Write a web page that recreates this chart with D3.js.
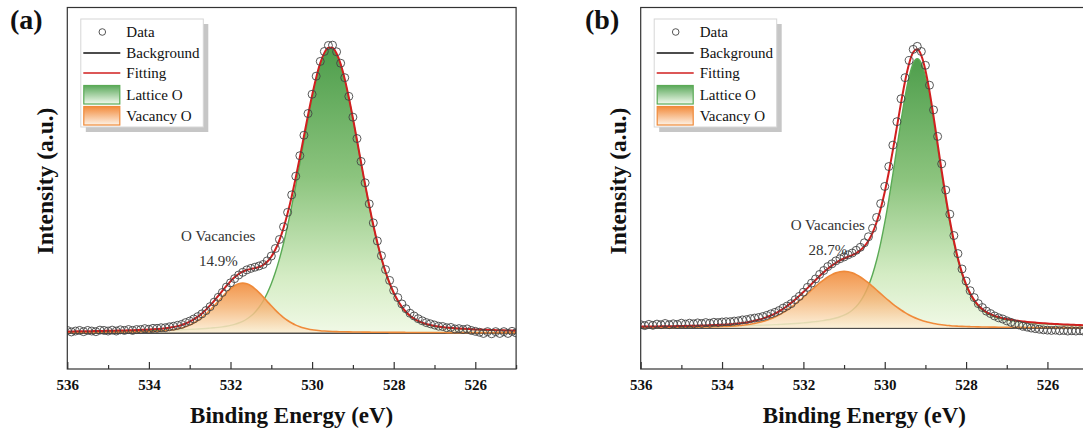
<!DOCTYPE html>
<html>
<head>
<meta charset="utf-8">
<script src="https://cdn.jsdelivr.net/npm/d3@7/dist/d3.min.js"></script>
<style>
  body { margin: 0; background: #fff; }
  svg { display: block; }
</style>
</head>
<body>
<div id="chart"></div>
<script>
// binding energy grid (eV), shared by both spectra
var energy = [
  536.0, 535.9, 535.8, 535.7, 535.6, 535.5, 535.4, 535.3, 535.2, 535.1,
  535.0, 534.9, 534.8, 534.7, 534.6, 534.5, 534.4, 534.3, 534.2, 534.1,
  534.0, 533.9, 533.8, 533.7, 533.6, 533.5, 533.4, 533.3, 533.2, 533.1,
  533.0, 532.9, 532.8, 532.7, 532.6, 532.5, 532.4, 532.3, 532.2, 532.1,
  532.0, 531.9, 531.8, 531.7, 531.6, 531.5, 531.4, 531.3, 531.2, 531.1,
  531.0, 530.9, 530.8, 530.7, 530.6, 530.5, 530.4, 530.3, 530.2, 530.1,
  530.0, 529.9, 529.8, 529.7, 529.6, 529.5, 529.4, 529.3, 529.2, 529.1,
  529.0, 528.9, 528.8, 528.7, 528.6, 528.5, 528.4, 528.3, 528.2, 528.1,
  528.0, 527.9, 527.8, 527.7, 527.6, 527.5, 527.4, 527.3, 527.2, 527.1,
  527.0, 526.9, 526.8, 526.7, 526.6, 526.5, 526.4, 526.3, 526.2, 526.1,
  526.0, 525.9, 525.8, 525.7, 525.6, 525.5, 525.4, 525.3, 525.2, 525.1,
  525.0
];
var tickMajor = [536, 534, 532, 530, 528, 526];
var tickMinor = [535, 533, 531, 529, 527, 525];
var legendNames = ["Data", "Background", "Fitting", "Lattice O", "Vacancy O"];

// ---- panel (a) ----
var backgroundA = 12;
var dataA = [
  12.8, 12.3, 12.6, 12.8, 12.4, 12.8, 12.6, 12.4, 12.9, 12.8,
  12.6, 12.9, 12.6, 13.0, 12.8, 13.1, 12.8, 13.1, 13.1, 13.4,
  13.2, 13.5, 13.5, 13.7, 13.7, 14.0, 14.2, 14.5, 14.8, 15.4,
  15.9, 16.6, 17.4, 18.3, 19.4, 20.7, 22.2, 23.8, 25.4, 27.2,
  28.6, 30.0, 31.2, 32.1, 32.9, 33.4, 33.8, 34.2, 34.7, 35.9,
  37.5, 40.0, 43.0, 47.2, 52.0, 57.8, 64.0, 70.8, 77.6, 84.8,
  91.2, 97.2, 102.1, 105.4, 107.4, 107.5, 105.3, 101.5, 96.7, 90.5,
  83.6, 76.5, 68.9, 61.8, 54.8, 48.5, 42.5, 37.6, 33.0, 29.4,
  26.1, 23.7, 21.6, 20.0, 18.5, 17.6, 16.7, 16.0, 15.4, 15.0,
  14.6, 14.2, 14.1, 13.7, 13.8, 13.3, 13.4, 13.1, 13.3, 12.8,
  12.5, 12.2, 11.8, 12.4, 11.7, 12.4, 11.8, 12.4, 11.8, 12.5,
  12.0
];
// fitted components, height above background
var latticeA = [
  0.34, 0.35, 0.36, 0.38, 0.39, 0.40, 0.41, 0.43, 0.44, 0.46,
  0.47, 0.49, 0.51, 0.53, 0.55, 0.57, 0.59, 0.62, 0.65, 0.67,
  0.70, 0.73, 0.77, 0.80, 0.84, 0.88, 0.93, 0.97, 1.03, 1.08,
  1.14, 1.21, 1.28, 1.36, 1.45, 1.56, 1.67, 1.82, 1.99, 2.20,
  2.47, 2.81, 3.26, 3.83, 4.59, 5.58, 6.86, 8.50, 10.57, 13.14,
  16.30, 20.10, 24.56, 29.73, 35.58, 42.03, 48.98, 56.27, 63.69, 70.97,
  77.80, 83.87, 88.82, 92.33, 94.16, 94.16, 92.33, 88.82, 83.87, 77.80,
  70.97, 63.69, 56.27, 48.98, 42.03, 35.58, 29.73, 24.56, 20.10, 16.30,
  13.14, 10.57, 8.50, 6.86, 5.58, 4.59, 3.83, 3.26, 2.81, 2.47,
  2.20, 1.99, 1.82, 1.67, 1.56, 1.45, 1.36, 1.28, 1.21, 1.14,
  1.08, 1.03, 0.97, 0.93, 0.88, 0.84, 0.80, 0.77, 0.73, 0.70,
  0.67
];
var vacancyA = [
  0.12, 0.13, 0.13, 0.14, 0.15, 0.15, 0.16, 0.17, 0.18, 0.19,
  0.20, 0.21, 0.23, 0.24, 0.26, 0.28, 0.30, 0.32, 0.35, 0.38,
  0.41, 0.46, 0.52, 0.60, 0.70, 0.84, 1.02, 1.27, 1.60, 2.03,
  2.57, 3.26, 4.09, 5.09, 6.25, 7.55, 8.97, 10.46, 11.95, 13.37,
  14.63, 15.63, 16.28, 16.50, 16.28, 15.63, 14.63, 13.37, 11.95, 10.46,
  8.97, 7.55, 6.25, 5.09, 4.09, 3.26, 2.57, 2.03, 1.60, 1.27,
  1.02, 0.84, 0.70, 0.60, 0.52, 0.46, 0.41, 0.38, 0.35, 0.32,
  0.30, 0.28, 0.26, 0.24, 0.23, 0.21, 0.20, 0.19, 0.18, 0.17,
  0.16, 0.15, 0.15, 0.14, 0.13, 0.13, 0.12, 0.12, 0.11, 0.11,
  0.10, 0.10, 0.10, 0.09, 0.09, 0.08, 0.08, 0.08, 0.08, 0.07,
  0.07, 0.07, 0.07, 0.07, 0.06, 0.06, 0.06, 0.06, 0.06, 0.06,
  0.06
];

// ---- panel (b) ----
var backgroundB = 13.6;
var dataB = [
  14.7, 14.4, 14.8, 14.5, 14.9, 14.7, 15.1, 14.7, 15.0, 14.8,
  15.2, 14.9, 15.2, 15.0, 15.3, 15.1, 15.4, 15.2, 15.5, 15.4,
  15.6, 15.7, 15.7, 15.9, 16.0, 16.3, 16.4, 16.7, 16.9, 17.1,
  17.4, 17.8, 18.3, 18.8, 19.4, 20.2, 20.9, 21.7, 23.0, 24.1,
  25.5, 27.1, 28.5, 29.9, 31.4, 32.7, 34.0, 34.9, 35.9, 36.6,
  37.2, 37.9, 38.5, 39.4, 40.4, 41.9, 43.9, 46.7, 50.3, 54.9,
  60.6, 67.2, 74.3, 82.1, 89.7, 96.7, 102.4, 106.1, 107.1, 105.4,
  100.8, 94.2, 86.0, 77.2, 68.1, 59.4, 51.4, 44.3, 38.3, 33.2,
  29.2, 26.0, 23.7, 21.7, 20.4, 19.2, 18.4, 17.6, 17.0, 16.6,
  16.0, 15.5, 15.0, 14.6, 14.2, 13.9, 13.6, 13.4, 13.2, 13.0,
  12.9, 12.8, 12.9, 12.7, 12.8, 12.6, 12.7, 12.6, 12.7, 12.5,
  12.5
];
var latticeB = [
  0.31, 0.32, 0.33, 0.33, 0.34, 0.36, 0.37, 0.38, 0.39, 0.40,
  0.42, 0.43, 0.45, 0.47, 0.48, 0.50, 0.52, 0.54, 0.56, 0.58,
  0.61, 0.63, 0.66, 0.69, 0.72, 0.75, 0.79, 0.83, 0.87, 0.91,
  0.96, 1.01, 1.06, 1.12, 1.19, 1.26, 1.33, 1.42, 1.51, 1.61,
  1.72, 1.84, 1.98, 2.13, 2.29, 2.50, 2.73, 3.00, 3.33, 3.75,
  4.28, 4.98, 5.92, 7.16, 8.85, 11.09, 14.02, 17.78, 22.49, 28.21,
  34.96, 42.65, 51.08, 59.93, 68.71, 76.80, 83.45, 87.85, 89.40, 87.85,
  83.45, 76.80, 68.71, 59.93, 51.08, 42.65, 34.96, 28.21, 22.49, 17.78,
  14.02, 11.09, 8.85, 7.16, 5.92, 4.98, 4.28, 3.75, 3.33, 3.00,
  2.73, 2.50, 2.29, 2.13, 1.98, 1.84, 1.72, 1.61, 1.51, 1.42,
  1.33, 1.26, 1.19, 1.12, 1.06, 1.01, 0.96, 0.91, 0.87, 0.83,
  0.79
];
var vacancyB = [
  0.16, 0.17, 0.18, 0.19, 0.19, 0.20, 0.21, 0.22, 0.23, 0.24,
  0.25, 0.26, 0.28, 0.29, 0.31, 0.33, 0.35, 0.38, 0.41, 0.45,
  0.49, 0.54, 0.61, 0.69, 0.80, 0.92, 1.08, 1.28, 1.52, 1.82,
  2.17, 2.60, 3.10, 3.68, 4.35, 5.12, 5.98, 6.92, 7.96, 9.06,
  10.22, 11.41, 12.62, 13.81, 14.96, 16.01, 16.95, 17.73, 18.31, 18.68,
  18.80, 18.68, 18.31, 17.73, 16.95, 16.01, 14.96, 13.81, 12.62, 11.41,
  10.22, 9.06, 7.96, 6.92, 5.98, 5.12, 4.35, 3.68, 3.10, 2.60,
  2.17, 1.82, 1.52, 1.28, 1.08, 0.92, 0.80, 0.69, 0.61, 0.54,
  0.49, 0.45, 0.41, 0.38, 0.35, 0.33, 0.31, 0.29, 0.28, 0.26,
  0.25, 0.24, 0.23, 0.22, 0.21, 0.20, 0.19, 0.19, 0.18, 0.17,
  0.16, 0.16, 0.15, 0.15, 0.14, 0.14, 0.13, 0.13, 0.12, 0.12,
  0.12
];

var svgWidth = 1083;
var svgHeight = 432;
var plotTop = 7.5;
var plotBottom = 369;
var font = "'Liberation Serif', 'Times New Roman', serif";

var svg = d3.select("#chart")
  .append("svg")
  .attr("width", svgWidth)
  .attr("height", svgHeight)
  .style("background", "#fff");

var defs = svg.append("defs");

function addGradient(id, stops) {
  var g = defs.append("linearGradient")
    .attr("id", id)
    .attr("x1", 0).attr("y1", 0)
    .attr("x2", 0).attr("y2", 1);
  stops.forEach(function(s) {
    g.append("stop").attr("offset", s[0]).attr("stop-color", s[1]);
  });
}
addGradient("greenFill", [["0%", "#4e9e4c"], ["45%", "#8cc47e"], ["80%", "#d4ecc4"], ["100%", "#f1f9e6"]]);
addGradient("orangeFill", [["0%", "#f0842e"], ["50%", "#f5b577"], ["100%", "#fcefd6"]]);
addGradient("greenKey", [["0%", "#5aa85a"], ["100%", "#f2faee"]]);
addGradient("orangeKey", [["0%", "#f28a3a"], ["100%", "#fdf2e6"]]);

var panels = [
  { id: "a", left: 67.3, right: 516.1, data: dataA, lattice: latticeA, vacancy: vacancyA,
    bg: backgroundA, share: "14.9%", note: [532.3, 42.6], tag: "(a)", tagX: 10, titleX: 45 },
  { id: "b", left: 640.7, right: 1088.1, data: dataB, lattice: latticeB, vacancy: vacancyB,
    bg: backgroundB, share: "28.7%", note: [531.4, 46.3], tag: "(b)", tagX: 585, titleX: 618 }
];

panels.forEach(drawPanel);

function drawPanel(p) {
  var x = d3.scaleLinear().domain([536, 525]).range([p.left, p.right]);
  var y = d3.scaleLinear().domain([0, 120]).range([plotBottom, plotTop]);

  var rows = energy.map(function(e, i) {
    return {
      e: e,
      data: p.data[i],
      lat: p.bg + p.lattice[i],
      vac: p.bg + p.vacancy[i],
      fit: p.bg + p.lattice[i] + p.vacancy[i]
    };
  });

  defs.append("clipPath").attr("id", "clip-" + p.id)
    .append("rect")
    .attr("x", p.left).attr("y", plotTop)
    .attr("width", p.right - p.left).attr("height", plotBottom - plotTop);

  var g = svg.append("g").attr("clip-path", "url(#clip-" + p.id + ")");

  var latArea = d3.area().curve(d3.curveMonotoneX)
    .x(d => x(d.e)).y0(y(p.bg)).y1(d => y(d.lat));
  var vacArea = d3.area().curve(d3.curveMonotoneX)
    .x(d => x(d.e)).y0(y(p.bg)).y1(d => y(d.vac));
  var line = function(key) {
    return d3.line().curve(d3.curveMonotoneX).x(d => x(d.e)).y(d => y(d[key]));
  };

  // lattice O component
  g.append("path").datum(rows).attr("d", latArea).attr("fill", "url(#greenFill)");
  g.append("path").datum(rows).attr("d", line("lat"))
    .attr("fill", "none").attr("stroke", "#5aaa55").attr("stroke-width", 1.4);

  // background
  g.append("line")
    .attr("x1", p.left).attr("x2", p.right)
    .attr("y1", y(p.bg)).attr("y2", y(p.bg))
    .attr("stroke", "#111").attr("stroke-width", 1.6);

  // vacancy O component
  g.append("path").datum(rows).attr("d", vacArea)
    .attr("fill", "url(#orangeFill)").attr("fill-opacity", 0.85);
  g.append("path").datum(rows).attr("d", line("vac"))
    .attr("fill", "none").attr("stroke", "#ef8a3a").attr("stroke-width", 1.6);

  // envelope
  g.append("path").datum(rows).attr("d", line("fit"))
    .attr("fill", "none").attr("stroke", "#d11f1f").attr("stroke-width", 2);

  // measured points
  g.selectAll("circle.pt").data(rows).enter()
    .append("circle")
    .attr("class", "pt")
    .attr("cx", d => x(d.e))
    .attr("cy", d => y(d.data))
    .attr("r", 4)
    .attr("fill", "none")
    .attr("stroke", "#444")
    .attr("stroke-width", 0.9);

  // frame
  svg.append("rect")
    .attr("x", p.left).attr("y", plotTop)
    .attr("width", p.right - p.left).attr("height", plotBottom - plotTop)
    .attr("fill", "none").attr("stroke", "#333").attr("stroke-width", 1.2);

  // bottom axis, ticks pointing inward
  var axMajor = svg.append("g")
    .attr("transform", `translate(0, ${plotBottom})`)
    .call(d3.axisBottom(x).tickValues(tickMajor).tickSize(-7).tickPadding(10).tickFormat(d3.format("d")));
  var axMinor = svg.append("g")
    .attr("transform", `translate(0, ${plotBottom})`)
    .call(d3.axisBottom(x).tickValues(tickMinor).tickSize(-4).tickFormat(""));
  [axMajor, axMinor].forEach(function(ax) {
    ax.select(".domain").remove();
    ax.selectAll("line").attr("stroke", "#333").attr("stroke-width", 1.2);
  });
  axMajor.selectAll("text")
    .style("font-family", font)
    .style("font-weight", "bold")
    .style("font-size", "15px")
    .attr("fill", "#111");

  // axis titles
  svg.append("text")
    .attr("x", (p.left + p.right) / 2)
    .attr("y", 423)
    .attr("text-anchor", "middle")
    .style("font-family", font).style("font-weight", "bold").style("font-size", "23px")
    .attr("fill", "#111")
    .text("Binding Energy (eV)");

  svg.append("text")
    .attr("transform", `translate(${p.titleX}, 181) rotate(-90)`)
    .attr("dy", "0.35em")
    .attr("text-anchor", "middle")
    .style("font-family", font).style("font-weight", "bold").style("font-size", "23.5px")
    .attr("fill", "#111")
    .text("Intensity (a.u.)");

  svg.append("text")
    .attr("x", p.tagX).attr("y", 29)
    .style("font-family", font).style("font-weight", "bold").style("font-size", "28px")
    .attr("fill", "#111")
    .text(p.tag);

  // annotation
  var note = svg.append("text")
    .attr("text-anchor", "middle")
    .style("font-family", font).style("font-size", "15px")
    .attr("fill", "#333");
  note.append("tspan").attr("x", x(p.note[0])).attr("y", y(p.note[1])).text("O Vacancies");
  note.append("tspan").attr("x", x(p.note[0])).attr("y", y(p.note[1]) + 25).text(p.share);

  // legend
  var lg = svg.append("g").attr("transform", `translate(${p.left + 13.5}, 19)`);
  lg.append("rect").attr("x", 5).attr("y", 5).attr("width", 122.5).attr("height", 108).attr("fill", "#c6c6c6");
  lg.append("rect").attr("x", 0).attr("y", 0).attr("width", 122.5).attr("height", 108)
    .attr("fill", "#fff").attr("stroke", "#d6d6d6").attr("stroke-width", 1);

  var rowY = [13, 34, 54, 76, 97];
  lg.append("circle").attr("cx", 21.5).attr("cy", rowY[0]).attr("r", 3.3)
    .attr("fill", "none").attr("stroke", "#444").attr("stroke-width", 0.9);
  lg.append("line").attr("x1", 2.5).attr("x2", 39.5).attr("y1", rowY[1]).attr("y2", rowY[1])
    .attr("stroke", "#111").attr("stroke-width", 1.6);
  lg.append("line").attr("x1", 2.5).attr("x2", 39.5).attr("y1", rowY[2]).attr("y2", rowY[2])
    .attr("stroke", "#d11f1f").attr("stroke-width", 1.6);
  lg.append("rect").attr("x", 3).attr("y", 66.5).attr("width", 36).attr("height", 18.5)
    .attr("fill", "url(#greenKey)").attr("stroke", "#5aaa55").attr("stroke-width", 1.2);
  lg.append("rect").attr("x", 3).attr("y", 87.5).attr("width", 36).attr("height", 18.5)
    .attr("fill", "url(#orangeKey)").attr("stroke", "#ef8a3a").attr("stroke-width", 1.2);

  lg.selectAll("text.key").data(legendNames).enter()
    .append("text")
    .attr("class", "key")
    .attr("x", 45.5)
    .attr("y", (d, i) => rowY[i] + 5)
    .style("font-family", font).style("font-size", "15px")
    .attr("fill", "#111")
    .text(d => d);
}
</script>
</body>
</html>
